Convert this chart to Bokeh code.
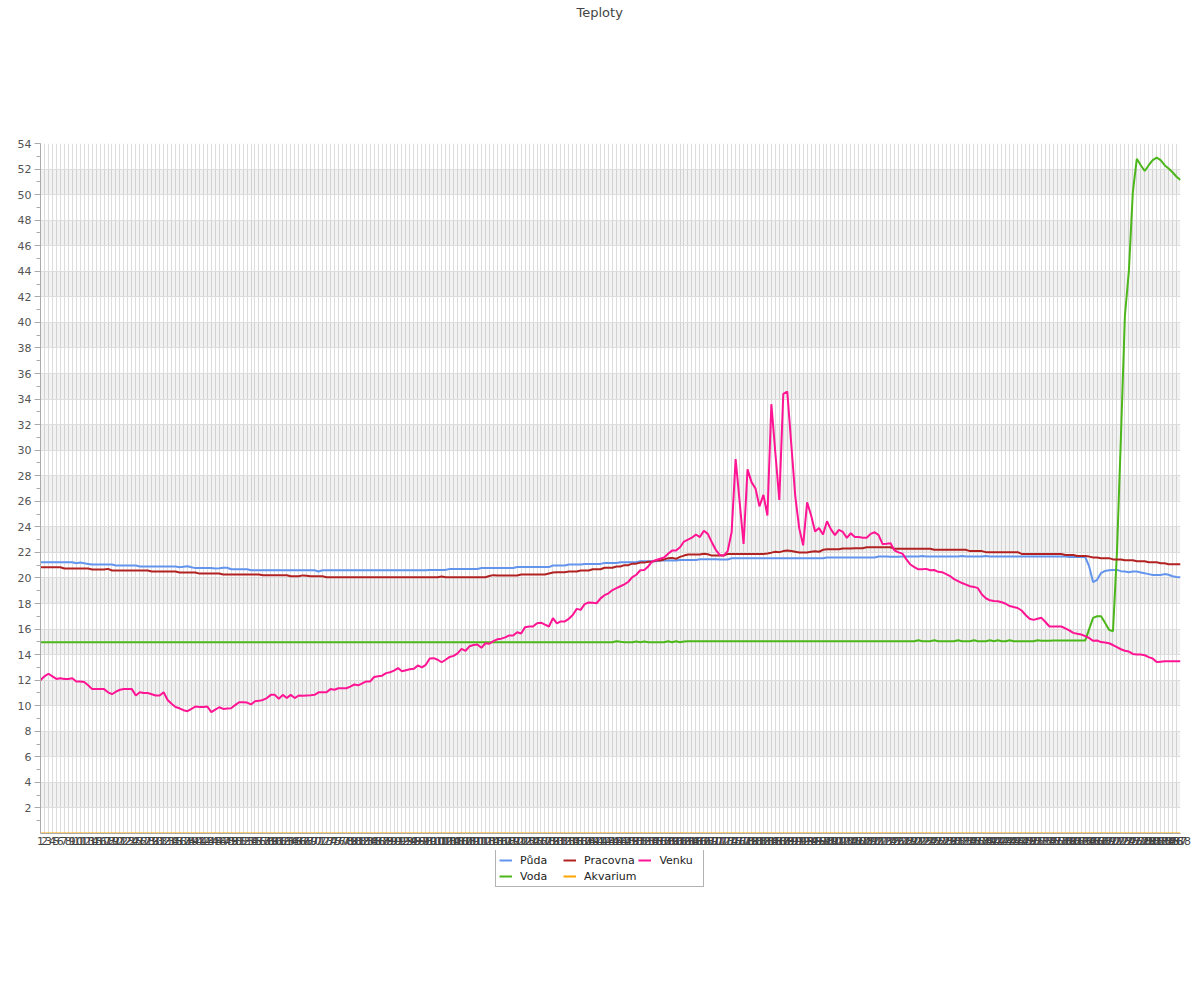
from bokeh.plotting import figure
from bokeh.layouts import column
from bokeh.models import FixedTicker, Legend, LegendItem, Range1d, ColumnDataSource
from bokeh.embed import file_html
from bokeh.resources import INLINE

# ---------------- data ----------------
title_text = "Teploty"
x = list(range(1, 289))
x_labels = [str(i) for i in x]
y_ticks = [2, 4, 6, 8, 10, 12, 14, 16, 18, 20, 22, 24, 26, 28, 30, 32, 34, 36, 38, 40,
           42, 44, 46, 48, 50, 52, 54]
y_minor = [1, 3, 5, 7, 9, 11, 13, 15, 17, 19, 21, 23, 25, 27, 29, 31, 33, 35, 37, 39,
           41, 43, 45, 47, 49, 51, 53]

puda = [
    21.23, 21.23, 21.23, 21.23, 21.23, 21.23, 21.23, 21.23, 21.23, 21.15, 21.2, 21.15,
    21.1, 21.05, 21.05, 21.05, 21.05, 21.05, 21.05, 20.97, 20.97, 20.97, 20.97, 20.97,
    20.97, 20.89, 20.89, 20.89, 20.89, 20.89, 20.89, 20.89, 20.89, 20.89, 20.89, 20.84,
    20.88, 20.92, 20.84, 20.77, 20.77, 20.77, 20.77, 20.77, 20.74, 20.76, 20.8, 20.8,
    20.68, 20.68, 20.68, 20.68, 20.68, 20.6, 20.6, 20.6, 20.6, 20.6, 20.6, 20.6,
    20.6, 20.6, 20.6, 20.6, 20.6, 20.6, 20.6, 20.6, 20.6, 20.6, 20.5, 20.6,
    20.6, 20.6, 20.6, 20.6, 20.6, 20.6, 20.6, 20.6, 20.6, 20.6, 20.6, 20.6,
    20.6, 20.6, 20.6, 20.6, 20.6, 20.6, 20.6, 20.6, 20.6, 20.6, 20.6, 20.6,
    20.6, 20.6, 20.63, 20.63, 20.63, 20.63, 20.63, 20.7, 20.7, 20.7, 20.7, 20.7,
    20.7, 20.7, 20.7, 20.78, 20.78, 20.78, 20.78, 20.78, 20.78, 20.78, 20.78, 20.78,
    20.85, 20.85, 20.85, 20.85, 20.85, 20.85, 20.85, 20.85, 20.85, 20.97, 20.97, 20.97,
    20.97, 21.05, 21.05, 21.05, 21.05, 21.1, 21.1, 21.1, 21.1, 21.1, 21.17, 21.17,
    21.17, 21.17, 21.23, 21.23, 21.23, 21.23, 21.23, 21.3, 21.3, 21.3, 21.3, 21.3,
    21.36, 21.36, 21.36, 21.36, 21.36, 21.41, 21.41, 21.41, 21.41, 21.41, 21.47, 21.47,
    21.47, 21.47, 21.47, 21.45, 21.45, 21.45, 21.54, 21.54, 21.54, 21.54, 21.54, 21.54,
    21.54, 21.54, 21.54, 21.54, 21.54, 21.54, 21.54, 21.54, 21.54, 21.54, 21.54, 21.54,
    21.54, 21.54, 21.54, 21.54, 21.54, 21.54, 21.6, 21.6, 21.6, 21.6, 21.6, 21.6,
    21.6, 21.6, 21.6, 21.6, 21.6, 21.6, 21.6, 21.68, 21.68, 21.68, 21.65, 21.65,
    21.65, 21.67, 21.67, 21.67, 21.67, 21.67, 21.72, 21.67, 21.67, 21.67, 21.67, 21.67,
    21.67, 21.67, 21.67, 21.67, 21.72, 21.67, 21.67, 21.67, 21.67, 21.67, 21.72, 21.67,
    21.67, 21.67, 21.67, 21.67, 21.67, 21.67, 21.67, 21.67, 21.67, 21.67, 21.67, 21.67,
    21.67, 21.67, 21.67, 21.67, 21.67, 21.67, 21.67, 21.64, 21.64, 21.64, 21.64, 21.64,
    20.9, 19.67, 19.85, 20.38, 20.55, 20.6, 20.63, 20.63, 20.53, 20.5, 20.45, 20.5,
    20.5, 20.43, 20.36, 20.3, 20.23, 20.23, 20.23, 20.3, 20.25, 20.13, 20.08, 20.06,
]

voda = [
    14.97, 14.97, 14.97, 14.97, 14.97, 14.97, 14.97, 14.97, 14.97, 14.97, 14.97, 14.97,
    14.97, 14.97, 14.97, 14.97, 14.97, 14.97, 14.97, 14.97, 14.97, 14.97, 14.97, 14.97,
    14.97, 14.97, 14.97, 14.97, 14.97, 14.97, 14.97, 14.97, 14.97, 14.97, 14.97, 14.97,
    14.97, 14.97, 14.97, 14.97, 14.97, 14.97, 14.97, 14.97, 14.97, 14.97, 14.97, 14.97,
    14.97, 14.97, 14.97, 14.97, 14.97, 14.97, 14.97, 14.97, 14.97, 14.97, 14.97, 14.97,
    14.97, 14.97, 14.97, 14.97, 14.97, 14.97, 14.97, 14.97, 14.97, 14.97, 14.97, 14.97,
    14.97, 14.97, 14.97, 14.97, 14.97, 14.97, 14.97, 14.97, 14.97, 14.97, 14.97, 14.97,
    14.97, 14.97, 14.97, 14.97, 14.97, 14.97, 14.97, 14.97, 14.97, 14.97, 14.97, 14.97,
    14.97, 14.97, 14.97, 14.97, 14.97, 14.97, 14.97, 14.97, 14.97, 14.97, 14.97, 14.97,
    14.97, 14.97, 14.97, 14.97, 14.97, 14.97, 14.97, 14.97, 14.97, 14.97, 14.97, 14.97,
    14.97, 14.97, 14.97, 14.97, 14.97, 14.97, 14.97, 14.97, 14.97, 14.97, 14.97, 14.97,
    14.97, 14.97, 14.97, 14.97, 14.97, 14.97, 14.97, 14.97, 14.97, 14.97, 14.97, 14.97,
    14.97, 15.05, 15.0, 14.97, 14.97, 14.97, 15.03, 14.97, 15.03, 14.97, 14.97, 14.97,
    14.97, 14.97, 15.05, 14.97, 15.05, 14.97, 15.03, 15.05, 15.05, 15.05, 15.05, 15.05,
    15.05, 15.05, 15.05, 15.05, 15.05, 15.05, 15.05, 15.05, 15.05, 15.05, 15.05, 15.05,
    15.05, 15.05, 15.05, 15.05, 15.05, 15.05, 15.05, 15.05, 15.05, 15.05, 15.05, 15.05,
    15.05, 15.05, 15.05, 15.05, 15.05, 15.05, 15.05, 15.05, 15.05, 15.05, 15.05, 15.05,
    15.05, 15.05, 15.05, 15.05, 15.05, 15.05, 15.05, 15.05, 15.05, 15.05, 15.05, 15.05,
    15.05, 15.05, 15.05, 15.05, 15.05, 15.12, 15.05, 15.05, 15.05, 15.12, 15.05, 15.05,
    15.05, 15.05, 15.05, 15.12, 15.05, 15.05, 15.05, 15.12, 15.05, 15.05, 15.05, 15.12,
    15.05, 15.12, 15.05, 15.05, 15.12, 15.05, 15.05, 15.05, 15.05, 15.05, 15.05, 15.12,
    15.08, 15.08, 15.08, 15.1, 15.1, 15.1, 15.1, 15.1, 15.1, 15.1, 15.1, 15.1,
    16.0, 16.88, 17.0, 17.0, 16.5, 15.94, 15.83, 22.0, 31.0, 40.5, 44.0, 50.2,
    52.8, 52.3, 51.85, 52.3, 52.7, 52.9, 52.7, 52.3, 52.05, 51.75, 51.4, 51.15,
]

pracovna = [
    20.84, 20.84, 20.84, 20.84, 20.84, 20.84, 20.74, 20.74, 20.74, 20.74, 20.74, 20.74,
    20.74, 20.66, 20.66, 20.66, 20.66, 20.71, 20.58, 20.58, 20.58, 20.58, 20.58, 20.58,
    20.58, 20.58, 20.58, 20.58, 20.5, 20.5, 20.5, 20.5, 20.5, 20.5, 20.5, 20.42,
    20.42, 20.42, 20.42, 20.42, 20.34, 20.34, 20.34, 20.34, 20.34, 20.34, 20.27, 20.27,
    20.27, 20.27, 20.27, 20.27, 20.27, 20.27, 20.27, 20.27, 20.21, 20.21, 20.21, 20.21,
    20.21, 20.21, 20.21, 20.13, 20.13, 20.13, 20.2, 20.18, 20.13, 20.13, 20.13, 20.13,
    20.06, 20.06, 20.06, 20.06, 20.06, 20.06, 20.06, 20.06, 20.06, 20.06, 20.06, 20.06,
    20.06, 20.06, 20.06, 20.06, 20.06, 20.06, 20.06, 20.06, 20.06, 20.06, 20.06, 20.06,
    20.06, 20.06, 20.06, 20.06, 20.06, 20.12, 20.06, 20.06, 20.06, 20.06, 20.06, 20.06,
    20.06, 20.06, 20.06, 20.06, 20.06, 20.15, 20.22, 20.19, 20.19, 20.19, 20.19, 20.19,
    20.19, 20.27, 20.27, 20.27, 20.27, 20.27, 20.27, 20.27, 20.35, 20.42, 20.45, 20.45,
    20.45, 20.5, 20.5, 20.5, 20.58, 20.58, 20.58, 20.68, 20.68, 20.68, 20.8, 20.8,
    20.8, 20.9, 20.9, 21.0, 21.0, 21.12, 21.12, 21.2, 21.2, 21.27, 21.27, 21.36,
    21.36, 21.45, 21.55, 21.57, 21.5, 21.65, 21.75, 21.83, 21.83, 21.83, 21.83, 21.9,
    21.85, 21.75, 21.75, 21.75, 21.75, 21.88, 21.88, 21.88, 21.88, 21.88, 21.88, 21.88,
    21.88, 21.88, 21.88, 21.92, 21.98, 22.05, 22.02, 22.1, 22.14, 22.1, 22.05, 22.0,
    22.0, 22.0, 22.05, 22.08, 22.05, 22.2, 22.25, 22.25, 22.25, 22.25, 22.3, 22.3,
    22.3, 22.33, 22.33, 22.33, 22.4, 22.4, 22.4, 22.4, 22.4, 22.4, 22.4, 22.28,
    22.28, 22.28, 22.28, 22.28, 22.28, 22.28, 22.28, 22.28, 22.28, 22.2, 22.2, 22.2,
    22.2, 22.2, 22.2, 22.2, 22.2, 22.2, 22.1, 22.1, 22.1, 22.1, 22.02, 22.02,
    22.02, 22.02, 22.02, 22.02, 22.02, 22.02, 22.02, 21.88, 21.88, 21.88, 21.88, 21.88,
    21.88, 21.88, 21.88, 21.88, 21.88, 21.88, 21.8, 21.8, 21.8, 21.72, 21.72, 21.72,
    21.67, 21.6, 21.6, 21.55, 21.55, 21.55, 21.45, 21.45, 21.45, 21.38, 21.38, 21.38,
    21.3, 21.3, 21.3, 21.23, 21.23, 21.23, 21.15, 21.15, 21.07, 21.07, 21.07, 21.07,
]

akvarium = [
    0, 0, 0, 0, 0, 0, 0, 0, 0, 0, 0, 0,
    0, 0, 0, 0, 0, 0, 0, 0, 0, 0, 0, 0,
    0, 0, 0, 0, 0, 0, 0, 0, 0, 0, 0, 0,
    0, 0, 0, 0, 0, 0, 0, 0, 0, 0, 0, 0,
    0, 0, 0, 0, 0, 0, 0, 0, 0, 0, 0, 0,
    0, 0, 0, 0, 0, 0, 0, 0, 0, 0, 0, 0,
    0, 0, 0, 0, 0, 0, 0, 0, 0, 0, 0, 0,
    0, 0, 0, 0, 0, 0, 0, 0, 0, 0, 0, 0,
    0, 0, 0, 0, 0, 0, 0, 0, 0, 0, 0, 0,
    0, 0, 0, 0, 0, 0, 0, 0, 0, 0, 0, 0,
    0, 0, 0, 0, 0, 0, 0, 0, 0, 0, 0, 0,
    0, 0, 0, 0, 0, 0, 0, 0, 0, 0, 0, 0,
    0, 0, 0, 0, 0, 0, 0, 0, 0, 0, 0, 0,
    0, 0, 0, 0, 0, 0, 0, 0, 0, 0, 0, 0,
    0, 0, 0, 0, 0, 0, 0, 0, 0, 0, 0, 0,
    0, 0, 0, 0, 0, 0, 0, 0, 0, 0, 0, 0,
    0, 0, 0, 0, 0, 0, 0, 0, 0, 0, 0, 0,
    0, 0, 0, 0, 0, 0, 0, 0, 0, 0, 0, 0,
    0, 0, 0, 0, 0, 0, 0, 0, 0, 0, 0, 0,
    0, 0, 0, 0, 0, 0, 0, 0, 0, 0, 0, 0,
    0, 0, 0, 0, 0, 0, 0, 0, 0, 0, 0, 0,
    0, 0, 0, 0, 0, 0, 0, 0, 0, 0, 0, 0,
    0, 0, 0, 0, 0, 0, 0, 0, 0, 0, 0, 0,
    0, 0, 0, 0, 0, 0, 0, 0, 0, 0, 0, 0,
]

venku = [
    12.0, 12.3, 12.5, 12.3, 12.1, 12.15, 12.1, 12.1, 12.15, 11.9, 11.9, 11.85,
    11.6, 11.3, 11.3, 11.3, 11.3, 11.05, 10.9, 11.1, 11.25, 11.3, 11.3, 11.3,
    10.8, 11.05, 11.0, 11.0, 10.9, 10.8, 10.8, 11.05, 10.45, 10.15, 9.9, 9.8,
    9.65, 9.57, 9.75, 9.94, 9.9, 9.9, 9.94, 9.5, 9.7, 9.88, 9.75, 9.78,
    9.8, 10.05, 10.27, 10.27, 10.25, 10.1, 10.35, 10.38, 10.45, 10.6, 10.85, 10.85,
    10.55, 10.85, 10.6, 10.85, 10.6, 10.8, 10.78, 10.8, 10.82, 10.85, 11.05, 11.05,
    11.05, 11.3, 11.25, 11.37, 11.37, 11.37, 11.5, 11.66, 11.6, 11.75, 11.9, 11.9,
    12.25, 12.3, 12.35, 12.55, 12.62, 12.75, 12.94, 12.7, 12.78, 12.85, 12.89, 13.15,
    13.0, 13.2, 13.7, 13.72, 13.6, 13.4, 13.6, 13.82, 13.9, 14.1, 14.45, 14.3,
    14.65, 14.75, 14.8, 14.53, 14.89, 14.85, 15.05, 15.2, 15.25, 15.35, 15.5, 15.5,
    15.75, 15.65, 16.15, 16.2, 16.2, 16.45, 16.5, 16.35, 16.2, 16.85, 16.45, 16.6,
    16.6, 16.8, 17.1, 17.58, 17.5, 17.95, 18.08, 18.05, 18.02, 18.4, 18.65, 18.8,
    19.05, 19.2, 19.35, 19.5, 19.7, 20.06, 20.25, 20.6, 20.63, 20.9, 21.3, 21.4,
    21.5, 21.6, 21.9, 22.14, 22.14, 22.4, 22.85, 23.0, 23.15, 23.4, 23.2, 23.7,
    23.45, 22.8, 22.2, 21.8, 21.75, 22.1, 23.6, 29.3, 26.0, 22.67, 28.5, 27.5,
    27.0, 25.6, 26.5, 24.88, 33.6, 29.8, 26.1, 34.4, 34.58, 30.5, 26.45, 23.9,
    22.55, 25.92, 24.9, 23.63, 23.9, 23.4, 24.44, 23.8, 23.35, 23.76, 23.6, 23.14,
    23.5, 23.2, 23.2, 23.15, 23.14, 23.45, 23.58, 23.35, 22.65, 22.68, 22.72, 22.15,
    22.0, 21.9, 21.45, 21.05, 20.85, 20.68, 20.68, 20.71, 20.6, 20.62, 20.48, 20.45,
    20.3, 20.15, 19.9, 19.75, 19.6, 19.48, 19.35, 19.3, 19.2, 18.7, 18.41, 18.25,
    18.2, 18.18, 18.1, 17.98, 17.8, 17.72, 17.65, 17.45, 17.1, 16.8, 16.72, 16.8,
    16.88, 16.55, 16.2, 16.2, 16.2, 16.2, 16.05, 15.9, 15.7, 15.63, 15.57, 15.45,
    15.3, 15.08, 15.1, 14.98, 14.95, 14.89, 14.75, 14.58, 14.42, 14.3, 14.24, 14.05,
    14.0, 14.0, 13.95, 13.8, 13.7, 13.42, 13.45, 13.48, 13.48, 13.48, 13.48, 13.48,
]

series_keys = ["puda", "voda", "pracovna", "akvarium", "venku"]
series_names = ["Půda", "Voda", "Pracovna", "Akvarium", "Venku"]
series_colors = ["#6495ed", "#4cb71a", "#b22222", "#ffa500", "#ff1493"]

FONT = "DejaVu Sans"
src = ColumnDataSource(dict(x=x, puda=puda, voda=voda, pracovna=pracovna,
                            akvarium=akvarium, venku=venku))

# ---------------- title strip ----------------
pt = figure(width=1192, height=133, output_backend="svg", toolbar_location=None,
            x_range=Range1d(0, 1), y_range=Range1d(0, 1),
            x_axis_type=None, y_axis_type=None, min_border=0, title=title_text)
pt.outline_line_color = None
pt.background_fill_color = "white"
pt.border_fill_color = "white"
pt.title.align = "left"
pt.title.offset = 536
pt.title.standoff = 4
pt.title.text_font = FONT
pt.title.text_font_size = "13px"
pt.title.text_font_style = "normal"
pt.title.text_color = "#444444"

# ---------------- main chart ----------------
p = figure(width=1192, height=717, output_backend="svg", toolbar_location=None,
           x_range=Range1d(1, 288), y_range=Range1d(0, 54),
           min_border_left=40, min_border_right=12, min_border_top=10,
           min_border_bottom=17)
p.outline_line_color = None
p.background_fill_color = "white"
p.border_fill_color = "white"

xt = FixedTicker(ticks=x)
p.xaxis.ticker = xt
p.xgrid.ticker = xt
p.xaxis.major_label_overrides = {i: s for i, s in zip(x, x_labels)}
p.xaxis.major_tick_line_color = None
p.xaxis.minor_tick_line_color = None
p.xaxis.major_tick_out = 0
p.xaxis.major_tick_in = 0
p.xaxis.axis_line_color = "#aaaaaa"
p.xaxis.major_label_text_font = FONT
p.xaxis.major_label_text_font_size = "11px"
p.xaxis.major_label_text_color = "#444444"
p.xaxis.major_label_standoff = 3
p.xgrid.grid_line_color = "#dddddd"

yt = FixedTicker(ticks=y_ticks, minor_ticks=y_minor)
p.yaxis.ticker = yt
p.ygrid.ticker = FixedTicker(ticks=[0] + y_ticks)
p.yaxis.axis_line_color = "#aaaaaa"
p.yaxis.major_tick_line_color = "#aaaaaa"
p.yaxis.minor_tick_line_color = "#aaaaaa"
p.yaxis.major_tick_out = 6
p.yaxis.major_tick_in = 0
p.yaxis.minor_tick_out = 4
p.yaxis.minor_tick_in = 0
p.yaxis.major_label_text_font = FONT
p.yaxis.major_label_text_font_size = "11px"
p.yaxis.major_label_text_color = "#555555"
p.yaxis.major_label_standoff = 3
p.ygrid.grid_line_color = "#dddddd"
p.ygrid.band_fill_color = "black"
p.ygrid.band_fill_alpha = 0.05

for key, color in zip(series_keys, series_colors):
    p.line("x", key, source=src, line_color=color, line_width=2)

# ---------------- legend strip (below the chart) ----------------
pl = figure(width=1192, height=142, output_backend="svg", toolbar_location=None,
            x_range=Range1d(-20, -10), y_range=Range1d(0, 1),
            x_axis_type=None, y_axis_type=None, min_border=0)
pl.outline_line_color = None
pl.background_fill_color = "white"
pl.border_fill_color = "white"
leg_items = []
for key, name, color in zip(series_keys, series_names, series_colors):
    r = pl.line("x", key, source=src, line_color=color, line_width=2)
    leg_items.append(LegendItem(label=name, renderers=[r]))

legend = Legend(items=leg_items, orientation="vertical", nrows=2, location=(455, 105))
legend.label_text_font = FONT
legend.label_text_font_size = "11px"
legend.label_text_color = "#222222"
legend.border_line_color = "#666666"
legend.border_line_width = 1
legend.glyph_width = 13
legend.glyph_height = 14
legend.label_height = 14
legend.label_width = 41
legend.label_standoff = 8
legend.spacing = 2
legend.padding = 3
legend.margin = 0
pl.add_layout(legend, "center")

open("out.html", "w").write(file_html(column(pt, p, pl), INLINE))
